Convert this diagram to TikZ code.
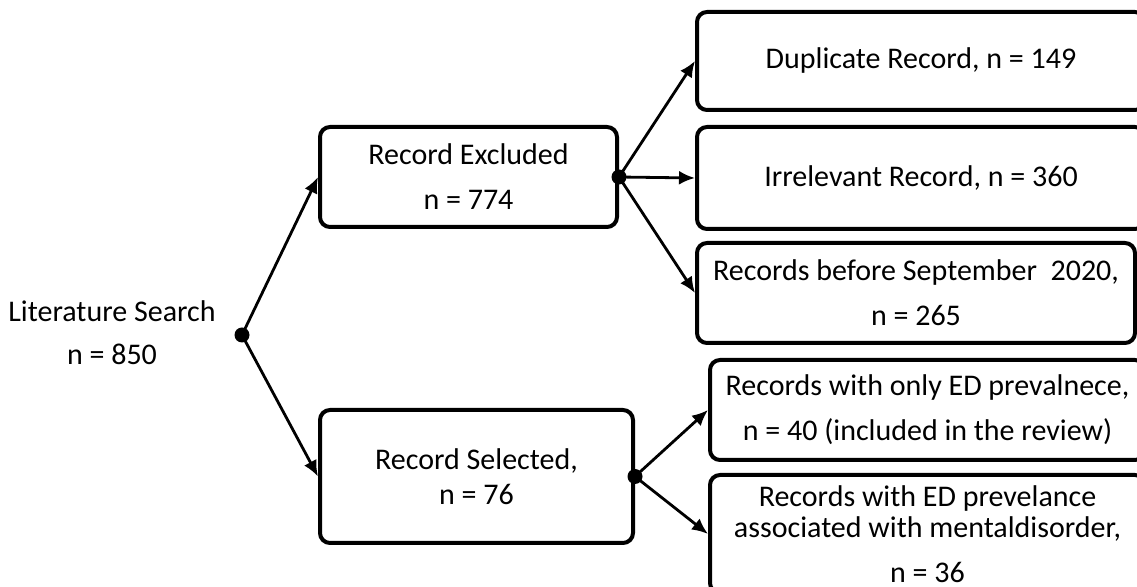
\documentclass[tikz,border=0pt]{standalone}
\usepackage{fontspec}
\setmainfont{Carlito}
\usepackage{tikz}
\usetikzlibrary{arrows.meta}

\tikzset{
  recbox/.style={draw, line width=2pt, rounded corners=5pt, align=center, inner sep=0pt},
  flowarrow/.style={-{Latex[length=8pt,width=7pt]}, line width=1.4pt},
  junction/.style={circle, fill, inner sep=0pt, minimum size=7.5pt}
}

\begin{document}
\begin{tikzpicture}[x=0.5pt,y=-0.5pt,font=\fontsize{15}{22.5}\selectfont]
\useasboundingbox (0,0) rectangle (1137,587);
\clip (0,0) rectangle (1137,587);

% start
\node[align=center] (lit) at (112,333) {Literature Search\\[-1pt] n = 850};
\node[junction] (litdot) at (242,335) {};

% first split
\node[recbox, minimum width=148.5pt, minimum height=50pt] (exc) at (468.5,177) {Record Excluded\\ n = 774};
\node[recbox, minimum width=156.5pt, minimum height=66.5pt] (sel) at (476.5,476.5) {Record Selected,\\[-5pt] n = 76};
\node[junction] (excdot) at (exc.east) {};
\node[junction] (seldot) at (sel.east) {};

% excluded records
\node[recbox, minimum width=224pt, minimum height=49pt] (dup) at (921,61) {Duplicate Record, n = 149};
\node[recbox, minimum width=224pt, minimum height=51pt] (irr) at (921,178) {Irrelevant Record, n = 360};
\node[recbox, minimum width=219pt, minimum height=50pt] (bef) at (916,293) {Records before September~~2020,\\ n = 265};

% selected records
\node[recbox, minimum width=217.5pt, minimum height=50pt] (only) at (927.5,410) {Records with only ED prevalnece,\\ n = 40 (included in the review)};
\node[recbox, minimum width=217.5pt, minimum height=59pt] (prev) at (927.5,534) {Records with ED prevelance\\[-7pt] associated with mentaldisorder,\\ n = 36};

\draw[flowarrow] (litdot.center) -- (exc.west);
\draw[flowarrow] (litdot.center) -- (sel.west);
\draw[flowarrow] (excdot.center) -- (dup.west);
\draw[flowarrow] (excdot.center) -- (irr.west);
\draw[flowarrow] (excdot.center) -- (bef.west);
\draw[flowarrow] (seldot.center) -- (only.west);
\draw[flowarrow] (seldot.center) -- (prev.west);
\end{tikzpicture}
\end{document}
